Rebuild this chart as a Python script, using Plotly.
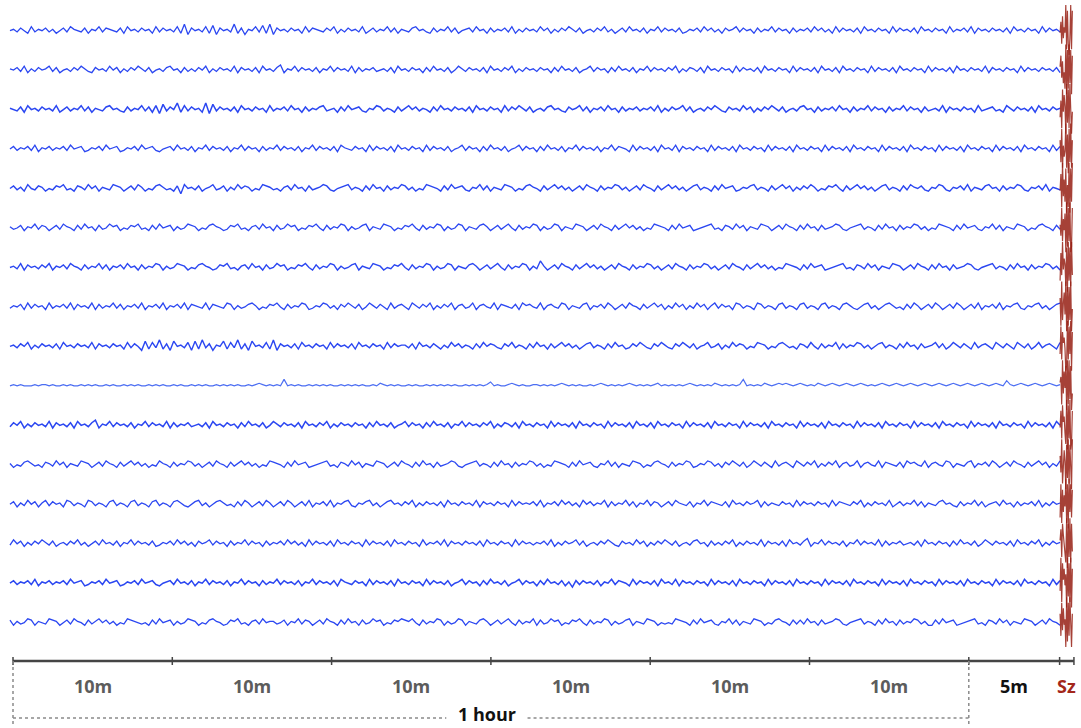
import numpy as np
import plotly.graph_objects as go

W, H = 1081, 728

# ---- data: EEG channel samples, digit-coded deviation levels (4.5 = baseline) ----
channel_traces = [
    "4536427354635246375436254736543627453" "6452736453729164537281645392615473829"
    "1645364527365436472536453724635473625" "4367453263547362456374526354637253645"
    "3746253647536245364735246374536254736" "4536235463746352645736452635473645263"
    "5463746352736453627453645273645362745" "3645273546372645364536274536452736453",
    "5463725364573624536475326453746253647" "5362453674526353647253645372645362745"
    "3682547364536254736453726354634536274" "5364526374536247536453627453647253645"
    "3645263745362457364526374536254736453" "6472536536274536452736453627453645273"
    "6453627453627453645273645362745364527" "3645362745364537264536452736453645362",
    "5436274536453724635473625436745326354" "7362718364927364529183645362745364527"
    "3546374526354673452637456325476354263" "5746354263745364536274536452736475362"
    "4536745326457362546374526354635463725" "3645736245364753264537462536475362453"
    "6745263546374526354736452635473645263" "4537264536452734563427536453627453645",
    "4635463725463546374562354637456235463" "7456324563745362547364536254736452635"
    "4736453625473645362754364527364536274" "5364527364536245736452637453624573645"
    "2637453625473645362547365427364536274" "5372645364527364536274536452736453627"
    "4536452736453627453645273645362745364" "5273645362745364527364536274536452736",
    "4635274365243657342653746254376524637" "5243675342607453624573462537465243765"
    "3425637452634576324567354263745263547" "6352437654263745632547362543765243675"
    "4263574635246375426354763524637542635" "7463524673542637456235467354263574625"
    "3647524365742635746352467354263754632" "5476325463725436745263547632546372543",
    "5346254736524637542637452634756243657" "3426374562534765243675423657342563745"
    "2634756243657426354762534672543765243" "6574263547625347625436752463574263547"
    "6253476254376524637542635746352437654" "2637456234567342653746254376524637542"
    "6374526345763245673542637452635476352" "4376542637456325473625437652436754263",
    "4537264536472546375426354736254637452" "6354762534765243675423657342563745263"
    "4756243657426354762534672543765243657" "4263547625347625436752463574263547625"
    "3952463754263574635246375426354763524" "6375426354763524637542635746352437654"
    "2637456234567342653746254376524637542" "6374526345763245673542637452635476352",
    "3546273645273546372645372635473625463" "7254637254637265437265437625346752436"
    "5742635476235476352647536247536427356" "4275364725364725634725643726543627564"
    "3725643762543672546375246375426357462" "5374625374625736452763542763542673542"
    "6735426735426753246735246753426375246" "3752463752463725463725467325467352467",
    "4536472536453627453645372645364527364" "1827392618453718293615482739261845372"
    "9164536274536452736453627453645273645" "5362745364253746354263746532647354263"
    "7452635746352467354263745236475326475" "3264753624573462537465243765243675342"
    "6537426354726354763524673542637452634" "5736247536427356427536427536247356427",
    "4545444545545445454454545445454454545" "4454545445454454545445454545445456545"
    "4549454544545454544545454544546545454" "4545445454545454454545457454456545445"
    "5454545654545445456545454565454545645" "4545456545454654545459454546545656545"
    "6545465456545654565454565456545654565" "4565456545654565456548545654565456545",
    "3647253645372645362745368254736453625" "4736453726354634536274536452637453624"
    "7536453627453647253645364526374536245" "7364526374536254736453647253653627453"
    "6452736453627453645273645362745362745" "3645273645362745364527364536274536452"
    "7364536274536452736453627453645273645" "3627453645273645362745364527364536274",
    "5243675342653746254376524637542635746" "3524375426354763524637542635746352437"
    "6542637456234567342653746254376524637" "5426374526345763245673542637452635476"
    "3524376542637456325473625437652436754" "2635476235476352647536247536427356427"
    "5364725364725634725643726543627564372" "5643762543672546375246375426357462537",
    "4625374625736452763542763542673542673" "5426735426753246735246753426375246375"
    "2463752463725463725467325467352467453" "6472536453627453645372645364527364546"
    "3725463746352746354726354736254736524" "6375436254736543627453645726354364527"
    "3645364527365436472536453724635473625" "4367453263547362456374526354637253645",
    "3746253647536245364735246374536254736" "4536235463746352645736452635473645263"
    "5463746352736453627453645273645362745" "3645273546372645364536274536452736453"
    "5463725364573624536475326453746253647" "5362453674526353647253645372645362745"
    "3682547364536254736453726354634536274" "5364526374536247536453627453647253645",
    "4635463725463546374562354637456235463" "7456324563745362547364536254736452635"
    "4736453625473645362754364527364536274" "5364527364536245736452637453624573645"
    "2637453625163645362547365427364536274" "5372645364527364536274536452736453627"
    "4536452736453627453645273645362745364" "5273645362745364527364536274536452736",
    "6253476254376524637542635746352437654" "3426374562534765243675423657342563745"
    "5346254736524637542637452634756243657" "6574263547625347625436752463574263547"
    "2634756243657426354762534672543765243" "4376542637456325473625437652436754263"
    "6374526345763245673542637452635476352" "2637456234567342653746254376524637542",
]

seizure_traces = [
    "4627354918203918", "5736241908192807", "3618475092819304", "6281534917082916",
    "4719362805190829", "5382647091829018", "2739465180928193", "6192573908182904",
    "3827564019283907", "5619374809192803", "4728563190829017", "6391475082918309",
    "2817364918093827", "5728643190829183", "3918574609281907", "6283745091829306",
]

channel_widths = [1.3, 1.3, 1.5, 1.3, 1.4, 1.3, 1.4, 1.3,
                  1.4, 1.2, 1.5, 1.3, 1.3, 1.3, 1.5, 1.3]

tick_minutes = [0, 10, 20, 30, 40, 50, 60, 65.7, 66.6]
segment_labels = ["10m", "10m", "10m", "10m", "10m", "10m", "5m", "Sz"]
segment_colors = ["#5c5c5c"] * 6 + ["#111111", "#a3271b"]
hour_span = [0, 60]
hour_gap = [27.2, 32.3]
hour_label = "1 hour"

trace_start = -0.19
seizure_onset = 65.73
seizure_end = 66.5

# ---- scales ----
PX_PER_MIN = 15.93
X0_PX = 13
ROW_PX = 39.47
ROW0_PX = 30
x_range = [-X0_PX / PX_PER_MIN, (W - X0_PX) / PX_PER_MIN]
y_range = [-(H - ROW0_PX) / ROW_PX, ROW0_PX / ROW_PX]
def ypx(p):
    return -(p - ROW0_PX) / ROW_PX

BLUE_UNIT = 0.033
RED_UNIT = 0.14

fig = go.Figure()

for i, s in enumerate(channel_traces):
    vals = np.array([int(c) for c in s], dtype=float)
    x = np.linspace(trace_start, seizure_onset, len(vals))
    y = -i + (vals - 4.5) * BLUE_UNIT
    col = "rgba(45,85,240,0.85)" if i == 9 else "rgba(25,55,240,0.92)"
    fig.add_trace(go.Scatter(x=x, y=y, mode="lines",
                             line=dict(color=col, width=channel_widths[i]),
                             hoverinfo="skip", showlegend=False))

for i, s in enumerate(seizure_traces):
    vals = np.array([int(c) for c in s], dtype=float)
    x = np.linspace(seizure_onset, seizure_end, len(vals))
    y = -i + (vals - 4.5) * RED_UNIT
    fig.add_trace(go.Scatter(x=x, y=y, mode="lines",
                             line=dict(color="rgba(150,32,20,0.85)", width=1.2),
                             hoverinfo="skip", showlegend=False))

# ---- time axis ----
axis_y = ypx(661)
tick_half = 4 / ROW_PX
fig.add_trace(go.Scatter(x=[tick_minutes[0], tick_minutes[-1]], y=[axis_y, axis_y],
                         mode="lines", line=dict(color="#454545", width=2.5),
                         hoverinfo="skip", showlegend=False))
tx, ty = [], []
for t in tick_minutes:
    tx += [t, t, None]
    ty += [axis_y - tick_half, axis_y + tick_half, None]
fig.add_trace(go.Scatter(x=tx, y=ty, mode="lines",
                         line=dict(color="#454545", width=1.5),
                         hoverinfo="skip", showlegend=False))

# hour bracket (dotted)
dot_y = ypx(718)
bottom_y = ypx(726)
dot_style = dict(color="#8a8a8a", width=1.5, dash="dot")
for t in hour_span:
    fig.add_trace(go.Scatter(x=[t, t], y=[axis_y, bottom_y], mode="lines",
                             line=dot_style, hoverinfo="skip", showlegend=False))
fig.add_trace(go.Scatter(x=[hour_span[0], hour_gap[0], None, hour_gap[1], hour_span[1]],
                         y=[dot_y, dot_y, None, dot_y, dot_y], mode="lines",
                         line=dot_style, hoverinfo="skip", showlegend=False))

label_y = ypx(686)
for k, lab in enumerate(segment_labels):
    xm = (tick_minutes[k] + tick_minutes[k + 1]) / 2
    fig.add_annotation(x=xm, y=label_y, text="<b>%s</b>" % lab, showarrow=False,
                       font=dict(family="Open Sans", size=18, color=segment_colors[k]),
                       xanchor="center", yanchor="middle")

fig.add_annotation(x=(hour_gap[0] + hour_gap[1]) / 2, y=ypx(714),
                   text="<b>%s</b>" % hour_label, showarrow=False,
                   font=dict(family="Open Sans", size=18, color="#111111"),
                   borderpad=0, xanchor="center", yanchor="middle")

fig.update_layout(
    width=W, height=H,
    margin=dict(l=0, r=0, t=0, b=0),
    paper_bgcolor="white", plot_bgcolor="white",
    xaxis=dict(range=x_range, visible=False, fixedrange=True),
    yaxis=dict(range=y_range, visible=False, fixedrange=True),
    showlegend=False,
)

fig.write_html(
    "out.html",
    config={"displayModeBar": False},
    post_script="document.body.style.margin='0';document.body.style.padding='0';"
                "document.body.style.overflow='hidden';",
)
